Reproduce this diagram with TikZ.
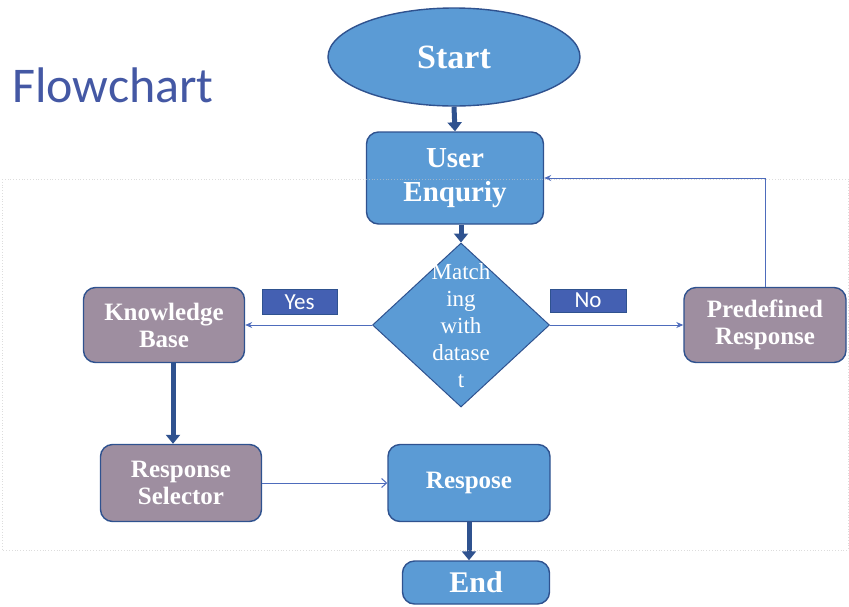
\documentclass[tikz,border=0pt]{standalone}
\usepackage{fontspec}
\setmainfont{Liberation Serif}
\newfontfamily\calibfont{Carlito}
\usetikzlibrary{shapes.geometric,arrows.meta}

\definecolor{boxblue}{RGB}{91,155,213}
\definecolor{boxgrey}{RGB}{158,142,160}
\definecolor{edgenavy}{RGB}{47,82,143}
\definecolor{tagblue}{RGB}{68,96,178}
\definecolor{linkblue}{RGB}{78,108,188}
\definecolor{titleblue}{RGB}{68,88,164}

\tikzset{
  base/.style={draw=edgenavy, line width=1.4pt, text=white, align=center, inner sep=0pt},
  startshape/.style={base, ellipse, fill=boxblue, font=\bfseries\fontsize{34}{38}\selectfont},
  bluebox/.style={base, rectangle, rounded corners=12pt, fill=boxblue},
  greybox/.style={base, rectangle, rounded corners=12pt, fill=boxgrey,
                  font=\bfseries\fontsize{25}{27}\selectfont,
                  minimum width=161pt, minimum height=75pt},
  decision/.style={base, diamond, fill=boxblue, line width=1pt,
                   minimum width=177pt, minimum height=164pt},
  diamondtext/.style={text=white, align=center, inner sep=0pt,
                      font=\fontsize{23}{27}\selectfont},
  tagbox/.style={fill=tagblue, draw=edgenavy, line width=0.6pt, text=white,
                 inner sep=0pt, font=\calibfont\fontsize{23}{23}\selectfont},
  thickarrow/.style={draw=edgenavy, line width=5pt,
                     -{Triangle[width=14pt,length=9pt]}},
  thinarrow/.style={draw=linkblue, line width=1pt,
                    -{Stealth[length=7pt,width=6pt]}}
}

\begin{document}
\begin{tikzpicture}[x=1pt,y=-1pt]
\useasboundingbox (0,0) rectangle (849,606);

% Title
\node[anchor=base west, text=titleblue, inner sep=0pt,
      font=\calibfont\fontsize{50}{50}\selectfont] (title) at (12,102) {Flowchart};

% Main column
\node[startshape, minimum width=252pt, minimum height=98pt] (start) at (454,57) {Start};
\node[bluebox, minimum width=177pt, minimum height=92pt,
      font=\bfseries\fontsize{29}{34}\selectfont] (user) at (455,178) {User\\Enquriy};
\node[decision] (match) at (461,325) {};
\node[diamondtext] (matchtext) at (461,326) {Match\\ing\\with\\datase\\t};

% Side boxes
\node[greybox] (kb)  at (164,325) {Knowledge\\Base};
\node[greybox, minimum width=162pt] (pre) at (765,325) {Predefined\\Response};
\node[greybox, minimum height=77pt] (sel) at (181,483) {Response\\Selector};

% Bottom boxes
\node[bluebox, minimum width=162pt, minimum height=77pt,
      font=\bfseries\fontsize{25}{28}\selectfont] (resp) at (469,483) {Respose};
\node[bluebox, minimum width=147pt, minimum height=43pt,
      font=\bfseries\fontsize{30}{32}\selectfont] (end) at (476,582.5) {End};

% Yes / No tags
\node[tagbox, minimum width=75pt, minimum height=25pt] (yes) at (299.5,302) {Yes};
\node[tagbox, minimum width=76pt, minimum height=23pt] (no)  at (588,300.5) {No};

% Thick arrows
\draw[thickarrow] (start.south) -- (user.north);
\draw[thickarrow] (user.south -| match.north) -- (match.north);
\draw[thickarrow] ([xshift=9pt]kb.south) -- ([xshift=9pt]kb.south |- sel.north);
\draw[thickarrow] (resp.south) -- (resp.south |- end.north);

% Thin arrows
\draw[thinarrow] (match.west) -- (kb.east);
\draw[thinarrow] (match.east) -- (pre.west);
\draw[thinarrow] (pre.north) |- (user.east);
\draw[draw=linkblue, line width=1pt, -{Straight Barb[length=5pt,width=9pt]}]
  (sel.east) -- (resp.west);

% Dotted frame
\draw[gray!45, dotted, line width=0.8pt, opacity=0.6] (2,179) rectangle (848,550);

\end{tikzpicture}
\end{document}
